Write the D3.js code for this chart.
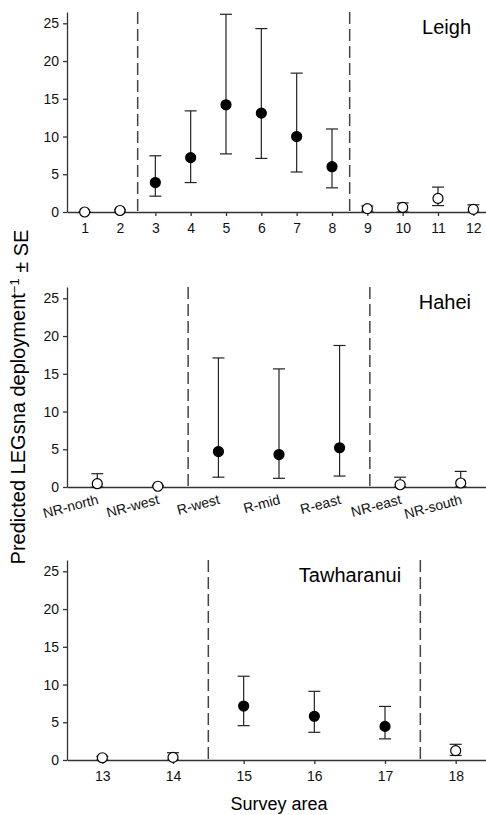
<!DOCTYPE html>
<html>
<head>
<meta charset="utf-8">
<script src="https://cdn.jsdelivr.net/npm/d3@7"></script>
<style>
  body { margin: 0; background: #fff; }
  svg { display: block; font-family: Arial, "Liberation Sans", sans-serif; }
</style>
</head>
<body>
<div id="chart"></div>
<script>
// Leigh
const leighAreas = ["1", "2", "3", "4", "5", "6", "7", "8", "9", "10", "11", "12"];
const leighMean = [0, 0.2, 3.9, 7.2, 14.2, 13.1, 10.0, 6.0, 0.45, 0.6, 1.8, 0.35];
const leighLow = [0, 0, 2.1, 3.9, 7.7, 7.1, 5.3, 3.2, 0.1, 0, 0.85, 0];
const leighHigh = [0, 0.3, 7.45, 13.4, 26.2, 24.3, 18.4, 11.0, 0.8, 1.2, 3.3, 0.95];
const leighReserve = [0, 0, 1, 1, 1, 1, 1, 1, 0, 0, 0, 0];

// Hahei
const haheiAreas = ["NR-north", "NR-west", "R-west", "R-mid", "R-east", "NR-east", "NR-south"];
const haheiMean = [0.44, 0.1, 4.7, 4.3, 5.2, 0.3, 0.53];
const haheiLow = [0, 0, 1.3, 1.15, 1.45, 0, 0];
const haheiHigh = [1.76, 0.2, 17.1, 15.65, 18.75, 1.3, 2.07];
const haheiReserve = [0, 0, 1, 1, 1, 0, 0];

// Tawharanui
const tawAreas = ["13", "14", "15", "16", "17", "18"];
const tawMean = [0.3, 0.35, 7.15, 5.8, 4.45, 1.24];
const tawLow = [0, 0, 4.55, 3.67, 2.8, 0.6];
const tawHigh = [0.5, 0.97, 11.1, 9.1, 7.1, 2.08];
const tawReserve = [0, 0, 1, 1, 1, 0];

const yTicks = [0, 5, 10, 15, 20, 25];

const width = 486, height = 815;
const left = 67, right = 491;

const svg = d3.select("#chart")
  .append("svg")
  .attr("width", width)
  .attr("height", height);

function drawPanel(opts) {
  const { areas, mean, low, high, reserve, top, name, nameX, nameAnchor, rotated } = opts;
  const zero = top + 200;

  const x = d3.scalePoint().domain(areas).range([left, right]).padding(0.5);
  const y = d3.scaleLinear().domain([0, 26.5]).range([zero, top]);

  const g = svg.append("g");

  // y axis
  const yAxis = g.append("g")
    .attr("transform", `translate(${left},0)`)
    .call(d3.axisLeft(y).tickValues(yTicks).tickSize(4).tickSizeOuter(0).tickPadding(4));

  // x axis
  const xAxis = g.append("g")
    .attr("transform", `translate(0,${zero})`)
    .call(d3.axisBottom(x).tickSize(rotated ? 0 : 4).tickSizeOuter(0).tickPadding(7));

  [yAxis, xAxis].forEach(a => {
    a.selectAll("path, line").attr("stroke", "#333").attr("stroke-width", 1.3);
    a.selectAll("text").attr("fill", "#111").style("font-size", "14px");
  });

  if (rotated) {
    xAxis.selectAll(".tick text")
      .attr("text-anchor", "end")
      .attr("y", 0)
      .attr("dy", "0.71em")
      .attr("transform", "translate(-1,7) rotate(-15)");
  }

  // dashed reserve boundaries
  const first = reserve.indexOf(1);
  const last = reserve.lastIndexOf(1);
  const step = x.step();
  [x(areas[first]) - step / 2, x(areas[last]) + step / 2].forEach(bx => {
    g.append("line")
      .attr("x1", bx).attr("x2", bx)
      .attr("y1", y(26.5)).attr("y2", zero)
      .attr("stroke", "#444")
      .attr("stroke-width", 1.5)
      .attr("stroke-dasharray", "12,5");
  });

  const data = areas.map((a, i) => ({ a, m: mean[i], lo: low[i], hi: high[i], r: reserve[i] }));

  // error bars
  const eb = g.selectAll(".eb").data(data).join("g").attr("class", "eb")
    .attr("stroke", "#222").attr("stroke-width", 1.2);
  eb.append("line")
    .attr("x1", d => x(d.a)).attr("x2", d => x(d.a))
    .attr("y1", d => y(d.lo)).attr("y2", d => y(d.hi));
  eb.append("line")
    .attr("x1", d => x(d.a) - 6).attr("x2", d => x(d.a) + 6)
    .attr("y1", d => y(d.hi)).attr("y2", d => y(d.hi));
  eb.append("line")
    .attr("x1", d => x(d.a) - 6).attr("x2", d => x(d.a) + 6)
    .attr("y1", d => y(d.lo)).attr("y2", d => y(d.lo));

  // points
  g.selectAll("circle").data(data).join("circle")
    .attr("cx", d => x(d.a))
    .attr("cy", d => y(d.m))
    .attr("r", 5)
    .attr("fill", d => d.r ? "#000" : "#fff")
    .attr("stroke", "#000")
    .attr("stroke-width", 1.2);

  g.append("text")
    .attr("x", nameX)
    .attr("y", top + 22)
    .attr("text-anchor", nameAnchor)
    .style("font-size", "20px")
    .attr("fill", "#000")
    .text(name);
}

drawPanel({ areas: leighAreas, mean: leighMean, low: leighLow, high: leighHigh,
  reserve: leighReserve, top: 12, name: "Leigh", nameX: 471, nameAnchor: "end" });
drawPanel({ areas: haheiAreas, mean: haheiMean, low: haheiLow, high: haheiHigh,
  reserve: haheiReserve, top: 287, name: "Hahei", nameX: 471, nameAnchor: "end", rotated: true });
drawPanel({ areas: tawAreas, mean: tawMean, low: tawLow, high: tawHigh,
  reserve: tawReserve, top: 560, name: "Tawharanui", nameX: 350, nameAnchor: "middle" });

// axis titles
svg.append("text")
  .attr("x", 279)
  .attr("y", 810)
  .attr("text-anchor", "middle")
  .style("font-size", "18px")
  .text("Survey area");

const yl = svg.append("text")
  .attr("transform", "translate(25,397) rotate(-90)")
  .attr("text-anchor", "middle")
  .style("font-size", "20px");
yl.append("tspan").text("Predicted LEGsna deployment");
yl.append("tspan").attr("dy", "-0.45em").style("font-size", "13px").text("\u22121");
yl.append("tspan").attr("dy", "0.45em").text(" \u00b1 SE");
</script>
</body>
</html>
